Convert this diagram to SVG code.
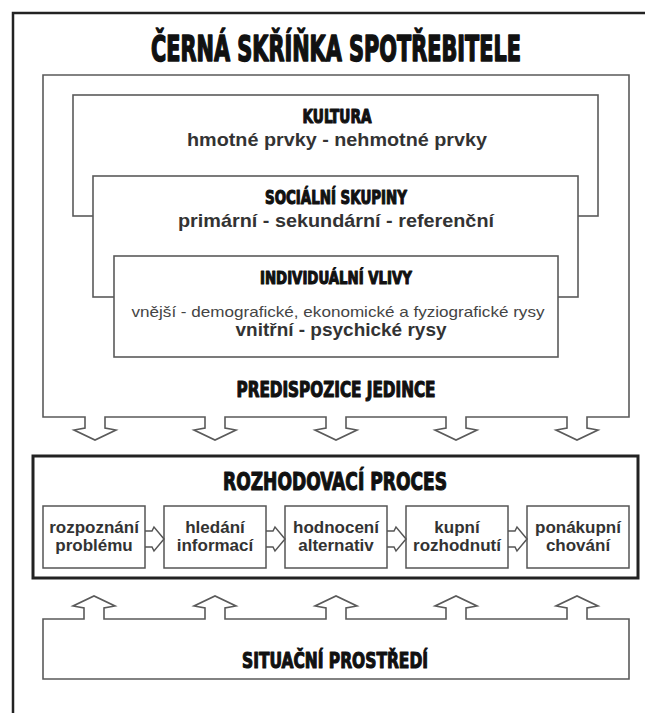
<svg xmlns="http://www.w3.org/2000/svg" width="645" height="713" viewBox="0 0 645 713">
<style>
.frame{fill:none;stroke:#222;stroke-width:2.5}
.box{fill:#fff;stroke:#5a5a5a;stroke-width:1.6}
.pbox{fill:#fff;stroke:#222;stroke-width:3}
.sbox{fill:#fff;stroke:#555;stroke-width:1.5}
.conn{fill:none;stroke:#555;stroke-width:1.5;stroke-linejoin:miter}
.hd{font-family:"Liberation Sans Narrow","DejaVu Sans Condensed","Liberation Sans",sans-serif;font-weight:bold;fill:#111;stroke:#111;stroke-width:1.1;stroke-linejoin:round;text-anchor:middle}
.tx{font-family:"Liberation Sans","DejaVu Sans",sans-serif;font-weight:bold;fill:#333;text-anchor:middle}
.tn{font-family:"Liberation Sans","DejaVu Sans",sans-serif;font-weight:normal;fill:#444;text-anchor:middle}
</style>
<rect width="645" height="713" fill="#fff"/>
<path class="frame" d="M13,713 V13 H650"/>
<text class="hd" transform="translate(336,61) scale(1,1.45)" x="0" y="0" font-size="25" stroke-width="0.9" textLength="370" lengthAdjust="spacingAndGlyphs">ČERNÁ SKŘÍŇKA SPOTŘEBITELE</text>

<g id="predispozice">
<path class="box" d="M43,75 H629 V417 H587 V428 L598,430 L577,440 L556,430 L567,428 V417 H466 V428 L477,430 L456,440 L435,430 L446,428 V417 H346 V428 L357,430 L336,440 L315,430 L326,428 V417 H225 V428 L236,430 L215,440 L194,430 L205,428 V417 H105 V428 L116,430 L95,440 L74,430 L85,428 V417 H43 Z"/>
<text class="hd" x="336" y="397" font-size="21" textLength="199" lengthAdjust="spacingAndGlyphs">PREDISPOZICE JEDINCE</text>
</g>

<g id="kultura">
<rect class="box" x="73" y="95" width="525" height="121"/>
<text class="hd" x="337" y="123" font-size="19" textLength="69" lengthAdjust="spacingAndGlyphs">KULTURA</text>
<text class="tx" x="337" y="146" font-size="19" textLength="300" lengthAdjust="spacingAndGlyphs">hmotné prvky - nehmotné prvky</text>
</g>

<g id="socialni">
<rect class="box" x="93" y="176" width="485" height="121"/>
<text class="hd" x="336" y="204" font-size="19" textLength="142" lengthAdjust="spacingAndGlyphs">SOCIÁLNÍ SKUPINY</text>
<text class="tx" x="336" y="227" font-size="19" textLength="316" lengthAdjust="spacingAndGlyphs">primární - sekundární - referenční</text>
</g>

<g id="individualni">
<rect class="box" x="114" y="256" width="444" height="101"/>
<text class="hd" x="336" y="284" font-size="18" textLength="152" lengthAdjust="spacingAndGlyphs">INDIVIDUÁLNÍ VLIVY</text>
<text class="tn" x="338" y="317" font-size="15" textLength="413" lengthAdjust="spacingAndGlyphs">vnější - demografické, ekonomické a fyziografické rysy</text>
<text class="tx" x="341" y="336" font-size="19" textLength="211" lengthAdjust="spacingAndGlyphs">vnitřní - psychické rysy</text>
</g>

<g id="rozhodovaci">
<rect class="pbox" x="33" y="456" width="605" height="122"/>
<text class="hd" x="335" y="490" font-size="25" textLength="224" lengthAdjust="spacingAndGlyphs">ROZHODOVACÍ PROCES</text>
</g>

<g id="rozpoznani">
<rect class="sbox" x="43" y="506" width="102" height="62"/>
<text class="tx" x="94" y="533" font-size="17">rozpoznání</text>
<text class="tx" x="94" y="551" font-size="17">problému</text>
</g>
<g id="hledani">
<rect class="sbox" x="164" y="506" width="102" height="62"/>
<text class="tx" x="215" y="533" font-size="17">hledání</text>
<text class="tx" x="215" y="551" font-size="17">informací</text>
</g>
<g id="hodnoceni">
<rect class="sbox" x="285" y="506" width="102" height="62"/>
<text class="tx" x="336" y="533" font-size="17">hodnocení</text>
<text class="tx" x="336" y="551" font-size="17">alternativ</text>
</g>
<g id="kupni">
<rect class="sbox" x="406" y="506" width="102" height="62"/>
<text class="tx" x="457" y="533" font-size="17">kupní</text>
<text class="tx" x="457" y="551" font-size="17">rozhodnutí</text>
</g>
<g id="ponakupni">
<rect class="sbox" x="527" y="506" width="102" height="62"/>
<text class="tx" x="578" y="533" font-size="17">ponákupní</text>
<text class="tx" x="578" y="551" font-size="17">chování</text>
</g>

<g id="connectors">
<path class="conn" d="M145,531 H152 L154,527 L164,539 L154,551 L152,547 H145"/>
<path class="conn" d="M266,531 H273 L275,527 L285,539 L275,551 L273,547 H266"/>
<path class="conn" d="M387,531 H394 L396,527 L406,539 L396,551 L394,547 H387"/>
<path class="conn" d="M508,531 H515 L517,527 L527,539 L517,551 L515,547 H508"/>
</g>

<g id="situacni">
<path class="box" d="M43,679 V619 H84 V608 L73,606 L94,596 L115,606 L104,608 V619 H205 V608 L194,606 L215,596 L236,606 L225,608 V619 H326 V608 L315,606 L336,596 L357,606 L346,608 V619 H446 V608 L435,606 L456,596 L477,606 L466,608 V619 H567 V608 L556,606 L577,596 L598,606 L587,608 V619 H629 V679 Z"/>
<text class="hd" x="335" y="668" font-size="22" textLength="186" lengthAdjust="spacingAndGlyphs">SITUAČNÍ PROSTŘEDÍ</text>
</g>
</svg>
